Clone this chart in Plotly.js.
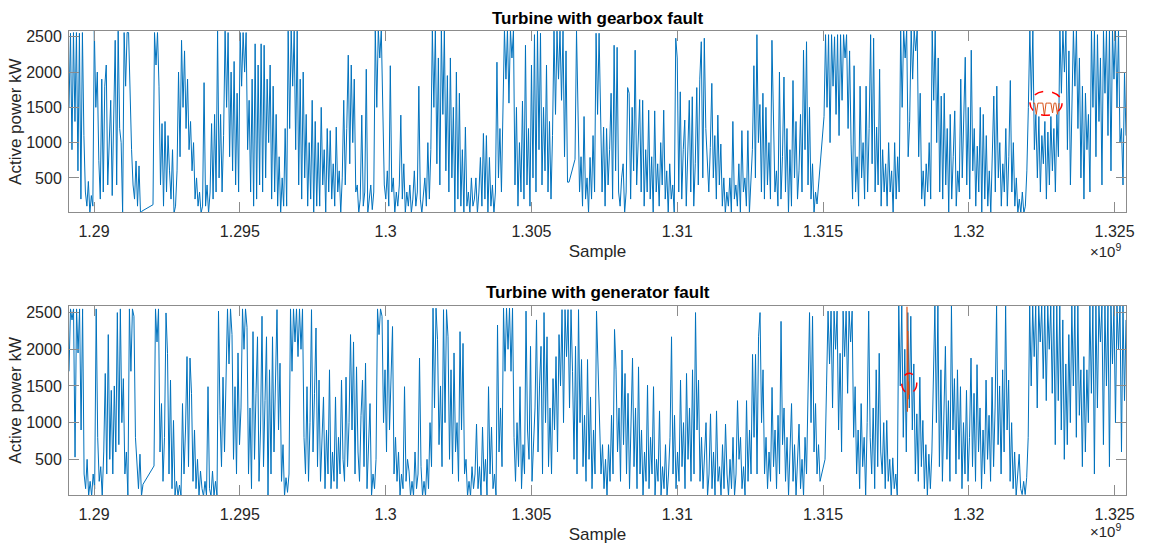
<!DOCTYPE html>
<html><head><meta charset="utf-8">
<script src="https://cdn.plot.ly/plotly-3.0.1.min.js"></script>
<style>html,body{margin:0;padding:0;background:#fff}#chart{width:1149px;height:544px}</style>
</head><body><div id="chart"></div>
<script>
// x tick labels (axis in units of 1e9 samples)
const xTickVals = [1.29, 1.295, 1.3, 1.305, 1.31, 1.315, 1.32, 1.325];
const xTickText = ["1.29", "1.295", "1.3", "1.305", "1.31", "1.315", "1.32", "1.325"];
const yTickVals = [500, 1000, 1500, 2000, 2500];
const yTickText = ["500", "1000", "1500", "2000", "2500"];

// ---- Turbine with gearbox fault: data segments (sample time in s, regular sampling within each segment)
const gearboxSegStart = [1289142000, 1292022900, 1306495800, 1315035500];
const gearboxSegEnd   = [1291645600, 1306290000, 1314795400, 1325391000];
const gearboxSeg1 = [1500,2550,900,2560,1300,2560,600,2550,200,2560,
  1100,300,100,450,0,250,100,2600,1500,2000,
  750,200,1900,300,1800,2100,400,1100,1600,250,
  1300,2450,400,2580,1200,1000,0,2560,1800,2560,
  2560,1500,900,400,200,740,100,670,0,30];
const gearboxSeg2 = [120,2560,2100,2560,1800,400,1270,100,1300,300,
  1100,600,200,900,0,100,600,2000,800,2450,
  1500,2300,1200,1900,900,1300,600,1000,200,500,
  100,300,0,100,1850,100,400,0,300,1270,
  200,1400,300,2580,500,1400,300,1100,2580,1500,
  2560,800,2000,600,2150,400,1700,300,2560,1800,
  2560,2000,2560,900,1600,300,1900,100,2400,200,
  2100,400,2400,300,2380,500,1900,1000,2100,200,
  1800,300,1400,100,800,0,500,100,1200,100,
  2580,1200,2600,1800,2580,900,2580,400,1900,200,
  2000,500,1400,100,1000,200,1600,0,1300,100,
  1000,100,1500,400,900,0,1200,300,1170,200,
  700,100,1220,300,600,0,500,1600,400,1200,
  2240,700,2100,1000,1900,300,400,0,200,1390,
  100,300,2040,0,250,400,50,300,2600,1500,
  2600,2200,2600,1700,400,200,600,100,2090,300,
  500,0,300,100,400,1390,200,700,0,300,
  100,400,0,200,600,100,300,1800,200,0,
  300,500,100,1000,200,900,2600,1500,2600,700,
  2200,400,2600,1400,2600,600,1950,300,2200,500,
  1500,0,2000,200,1700,100,900,0,1220,100,
  300,0,500,100,200,500,0,300,790,100,
  1130,200,1100,0,790,100,400,0,300,2140,
  500,1200,300,1600,2600,1900,2600,1560,2600,2200,
  2600,400,1500,100,1000,300,1590,200,2380,400,
  1200,100,2100,500,2530,300,2580,900,2550,400,
  1500,600,2100,300,1300,200,1100,2580,1400,2580,
  1900,2580,1600,2580,800,2300,440,440];
const gearboxSeg3 = [764,2580,1500,300,800,100,1370,200,500,0,
  790,200,1100,300,2550,1400,2550,1600,300,1220,
  100,1200,400,900,1700,200,2380,600,2350,300,
  100,500,700,0,300,1780,1700,200,1500,600,
  2310,400,1200,1610,300,1600,100,900,300,1460,
  200,800,0,1450,300,700,100,1000,400,1460,
  200,600,0,700,200,400,0,2480,2200,300,
  1720,200,900,1320,100,800,1600,300,1650,100,
  700,1780,400,1900,2430,500,2480,1200,600,300,
  930,1840,500,1100,200,1390,400,980,100,500,
  0,300,100,500,0,1300,200,400,100,700,
  0,1170,300,500,100,1170,0,400,900,2090,
  500,2530,1000,1540,300,1700,200,1500,400,1000,
  200,2450,1350,300,600,100,2000,200,800,1930,
  300,1200,0,900,100,1880,500,1300,200,600,
  1400,300,2310,900,2430,400,1500,200,700,0,
  300,130];
const gearboxSeg4 = [1370,2530,1500,2530,1000,2530,1800,2500,1400,2530,
  1100,2530,1600,2530,2200,2530,1200,2300,980,200,
  2090,300,800,100,1800,500,1000,200,1800,300,
  1200,2530,700,2480,300,1220,400,2040,100,900,
  300,700,100,1000,300,600,0,1000,200,800,
  300,2600,1500,2600,2200,2600,800,1300,2600,1900,
  2600,2300,2600,800,1700,200,600,100,700,300,
  1000,200,2600,1600,2600,1000,2200,300,1660,200,
  1700,400,1200,0,1400,200,800,1450,100,600,
  300,1900,500,1200,2210,400,1500,200,2310,600,
  1200,100,950,300,1500,0,1400,200,1100,100,
  600,0,900,1660,300,1800,500,1000,100,700,
  300,1200,100,800,1880,300,1000,100,500,0,
  200,0,300,0,100,600,1500,2600,1600,2600,
  900,1400,500,1370,300,1100,700,1300,200,1150,
  400,1370,600,1200,300,1400,800,2600,1700,2600,
  2000,2600,900,2300,400,1500,2600,1800,2600,1200,
  2200,500,1800,200,1700,900,1400,300,2600,1500,
  2600,800,2530,1300,2200,400,2580,1700,2600,1100,
  2600,600,2600,1900,2600,1500,2600,1000,1200,400,
  2000,1100];
// fault samples (orange) in the gearbox turbine
const gearboxFaultStart = 1322203000, gearboxFaultEnd = 1323095000;
const gearboxFault = [1560,1560,1400,1560,1560,1560,1560,1380,1560,1560,1560,1560,1420,1560,1560,1400,1560];

// ---- Turbine with generator fault
const generatorSegStart = [1289142000, 1292057200, 1315069800];
const generatorSegEnd   = [1291679900, 1314898300, 1325391000];
const generatorSeg1 = [1700,2550,2400,2550,530,2550,1950,2550,900,2550,
  300,100,500,0,200,0,300,100,2550,800,
  200,400,0,600,1670,300,2200,500,1440,300,
  1500,600,2500,700,2550,1000,1600,300,600,0,
  2550,1700,2550,2450,800,340,100,570,0,160];
const generatorSeg2 = [410,2550,2100,2550,600,1260,200,800,2495,1945,
  300,1580,100,1030,0,200,0,150,0,1260,
  300,900,1900,400,1880,1400,200,900,100,500,
  0,340,100,0,200,0,1490,100,0,340,
  0,200,0,2520,1100,400,1620,600,1500,2550,
  1800,2550,2200,500,1490,300,1950,700,1200,2550,
  2000,2550,2300,300,1200,100,2240,500,1400,2170,
  200,900,2450,400,1300,2170,0,1720,300,2170,
  600,1500,2540,900,1810,200,700,0,250,50,
  300,2550,1700,2550,2100,2550,1900,2550,2000,2550,
  800,300,1490,200,1000,2540,600,1400,2290,400,
  1580,200,800,1350,100,900,300,1720,100,600,
  200,1350,100,800,300,1580,500,200,1620,400,
  1000,2200,900,2100,300,1760,600,200,1100,1580,
  400,1810,100,600,1260,0,300,100,500,2550,
  2200,2550,2450,1000,1720,600,2400,900,1580,2310,
  300,800,200,600,0,300,100,1490,200,500,
  340,0,200,0,600,100,300,1880,400,0,
  200,0,500,100,1000,400,2560,1200,2560,2130,
  700,1500,400,2540,1000,2540,2170,500,1720,300,
  1950,600,1000,200,2240,900,2080,300,500,0,
  200,0,400,100,300,980,100,400,0,940,
  200,500,0,1490,300,940,100,300,0,2330,
  600,1200,400,2560,1700,2560,2000,2560,1700,2560,
  800,200,1000,400,1490,100,700,300,2520,900,
  500,2040,200,800,1200,2400,600,1500,2040,300,
  2500,1000,2170,400,1200,300,1600,900,1900,600,
  2200,1500,2540,1000,2540,1900,2540,1200,2540,1700,
  500,2040,300,2540,1000,1860,400,1100,200,1860,
  500,1350,100,900,300,2520,1800,1000,300,700,
  100,500,0,700,200,1100,300,2270,1720,600,
  1200,200,1990,700,1670,300,1400,100,900,1880,
  400,1200,100,1760,300,900,0,600,200,1510,
  100,800,300,1490,0,500,200,1160,0,400,
  100,700,0,300,800,2170,300,1100,100,600,
  200,1580,400,1000,100,1670,500,1200,200,1720,
  300,2500,900,1580,200,800,100,500,1000,0,
  300,1120,100,600,0,1160,200,400,0,700,
  100,980,300,0,500,100,800,0,300,1300,
  500,800,100,400,0,1300,200,900,300,1930,
  800,1930,300,2170,2500,1000,1720,300,800,100,
  600,200,1480,400,900,100,1100,300,2380,700,
  1200,200,800,0,600,1260,200,700,0,400,
  980,100,500,0,800,300,1500,2500,1000,2450,
  600,1260,300,700,200];
const generatorSeg3 = [500,1500,2520,1800,2520,1200,2520,2000,2520,900,
  1945,600,2520,1900,2520,1400,2520,2100,2520,800,
  1490,300,900,100,1260,400,800,0,1000,2520,
  800,300,1200,100,1720,400,1945,600,300,1000,
  100,1030,200,500,0,520,100,300,0,2590,
  1500,2590,800,2000,600,2500,1200,2450,900,1800,
  300,1120,200,1620,400,1030,100,700,0,570,
  100,600,1500,2590,1000,2590,400,1720,200,1000,
  2040,500,1300,200,2590,900,1600,300,1720,500,
  1490,100,1000,300,1440,200,800,1880,400,1400,
  200,1790,600,1200,100,900,300,1580,500,1100,
  200,1620,400,1200,2590,700,1500,300,1720,600,
  2590,900,1580,200,1000,100,600,0,300,570,
  100,20,200,20,250,800,2590,1500,2590,1900,
  2590,1200,2590,2100,2590,1600,2590,1300,2590,2000,
  2590,1400,2590,700,2590,1300,2590,900,2400,500,
  1800,700,2200,1000,2590,1500,2590,800,2590,1100,
  1720,400,1900,600,1720,1000,2590,1400,2590,300,
  2590,1200,2590,2100,2590,700,2590,1500,2590,400,
  2590,1800,2590,1000,2590,2000,2590,600,2590,1300,
  2400];
// fault samples (orange) in the generator turbine
const generatorFaultStart = 1317880000, generatorFaultEnd = 1317950000;
const generatorFault = [2580, 1150, 2250, 1320, 1560, 1380];

function buildSeries(starts, ends, segs) {
  const x = [], y = [];
  segs.forEach((vals, k) => {
    const dt = (ends[k] - starts[k]) / (vals.length - 1);
    vals.forEach((v, i) => { x.push((starts[k] + i * dt) / 1e9); y.push(v); });
  });
  return {x, y};
}
function buildFault(start, end, vals) {
  const dt = (end - start) / (vals.length - 1);
  return {x: vals.map((v, i) => (start + i * dt) / 1e9), y: vals.slice()};
}

const gb = buildSeries(gearboxSegStart, gearboxSegEnd, [gearboxSeg1, gearboxSeg2, gearboxSeg3, gearboxSeg4]);
const gn = buildSeries(generatorSegStart, generatorSegEnd, [generatorSeg1, generatorSeg2, generatorSeg3]);
const gbF = buildFault(gearboxFaultStart, gearboxFaultEnd, gearboxFault);
const gnF = buildFault(generatorFaultStart, generatorFaultEnd, generatorFault);

const BLUE = '#0072BD', ORANGE = '#D95319';
const FONT = 'Liberation Sans, Arial, Helvetica, sans-serif';
const AX = '#8c8c8c', TXT = '#262626';

const traces = [
  {x: gb.x, y: gb.y, type: 'scatter', mode: 'lines', line: {color: BLUE, width: 1}, xaxis: 'x', yaxis: 'y', hoverinfo: 'skip'},
  {x: gbF.x, y: gbF.y, type: 'scatter', mode: 'lines', line: {color: ORANGE, width: 1}, xaxis: 'x', yaxis: 'y', hoverinfo: 'skip'},
  {x: gn.x, y: gn.y, type: 'scatter', mode: 'lines', line: {color: BLUE, width: 1}, xaxis: 'x2', yaxis: 'y2', hoverinfo: 'skip'},
  {x: gnF.x, y: gnF.y, type: 'scatter', mode: 'lines', line: {color: ORANGE, width: 1.2}, xaxis: 'x2', yaxis: 'y2', hoverinfo: 'skip'}
];

function xAxis(anchor) {
  return {anchor: anchor, domain: [0, 1], range: [1.289142, 1.325391],
    tickmode: 'array', tickvals: xTickVals, ticktext: xTickText,
    ticks: 'inside', ticklen: 10, tickcolor: AX, tickwidth: 1,
    showline: true, linecolor: AX, linewidth: 1, mirror: 'allticks',
    showgrid: false, zeroline: false, ticklabelstandoff: 5,
    tickfont: {family: FONT, size: 16, color: TXT},
    title: {text: 'Sample', font: {family: FONT, size: 17, color: TXT}, standoff: 5}};
}
function yAxis(anchor, domain, range) {
  return {anchor: anchor, domain: domain, range: range,
    tickmode: 'array', tickvals: yTickVals, ticktext: yTickText,
    ticks: 'inside', ticklen: 10, tickcolor: AX, tickwidth: 1,
    showline: true, linecolor: AX, linewidth: 1, mirror: 'allticks',
    showgrid: false, zeroline: false, ticklabelstandoff: 3,
    tickfont: {family: FONT, size: 16, color: TXT},
    title: {text: 'Active power kW', font: {family: FONT, size: 17, color: TXT}, standoff: 0}};
}

const layout = {
  width: 1149, height: 544,
  margin: {l: 69, r: 23, t: 31, b: 49},
  paper_bgcolor: '#ffffff', plot_bgcolor: '#ffffff',
  showlegend: false,
  xaxis: xAxis('y'),
  yaxis: yAxis('x', [0.6093, 1], [13, 2582]),
  xaxis2: xAxis('y2'),
  yaxis2: yAxis('x2', [0, 0.408], [14, 2594]),
  annotations: [
    {text: '<b>Turbine with gearbox fault</b>', xref: 'paper', yref: 'paper', x: 0.5, y: 1.027, xanchor: 'center', yanchor: 'middle', showarrow: false, font: {family: FONT, size: 17, color: '#000'}},
    {text: '<b>Turbine with generator fault</b>', xref: 'paper', yref: 'paper', x: 0.5, y: 0.4375, xanchor: 'center', yanchor: 'middle', showarrow: false, font: {family: FONT, size: 17, color: '#000'}},
    {text: '×10<sup>9</sup>', xref: 'paper', yref: 'paper', x: 0.981, y: 0.502, xanchor: 'center', yanchor: 'bottom', showarrow: false, font: {family: FONT, size: 15, color: TXT}},
    {text: '×10<sup>9</sup>', xref: 'paper', yref: 'paper', x: 0.981, y: -0.1013, xanchor: 'center', yanchor: 'bottom', showarrow: false, font: {family: FONT, size: 15, color: TXT}}
  ],
  shapes: [
    {type: 'circle', xref: 'x', yref: 'y', x0: 1.3221, x1: 1.323198, y0: 1387, y1: 1727, line: {color: '#ff0000', width: 1.5, dash: 'dash'}},
    {type: 'circle', xref: 'x2', yref: 'y2', x0: 1.3177, x1: 1.318215, y0: 1400, y1: 1672, line: {color: '#ff0000', width: 1.5, dash: 'dash'}}
  ]
};

Plotly.newPlot('chart', traces, layout, {displayModeBar: false, staticPlot: true});
</script>
</body></html>
